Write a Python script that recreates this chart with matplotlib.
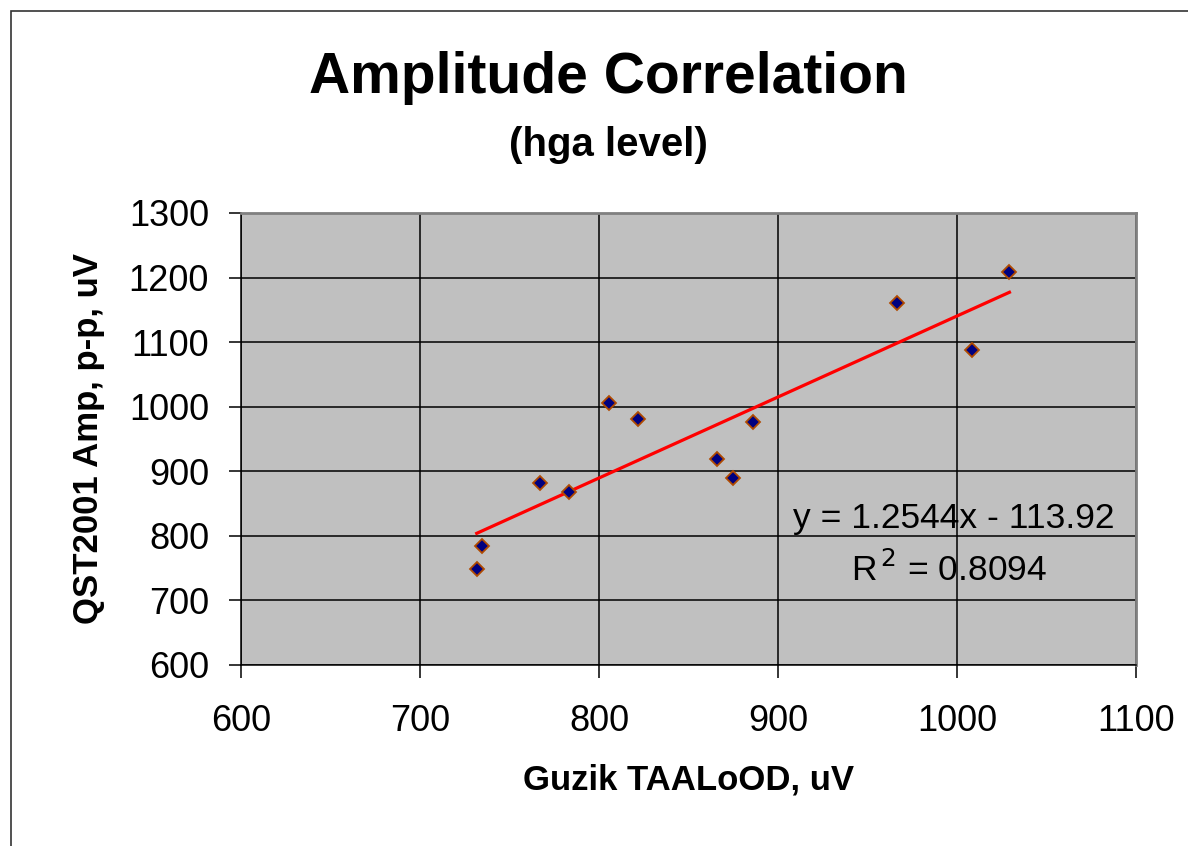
import matplotlib
matplotlib.use("Agg")
import matplotlib.pyplot as plt
from matplotlib.patches import Rectangle
import numpy as np

guzik = [731.7, 734.5, 767.1, 783.3, 805.5, 821.8, 866.2, 874.6, 886.3, 966.3, 1008.2, 1029.3]
qst = [748.2, 784.8, 881.9, 867.4, 1006.2, 981.5, 918.6, 889.1, 976.8, 1161.1, 1088.3, 1209.1]
slope = 1.2544
intercept = -113.92
r2 = 0.8094
x_ticks = [600, 700, 800, 900, 1000, 1100]
y_ticks = [600, 700, 800, 900, 1000, 1100, 1200, 1300]

plt.rcParams['font.family'] = ['Liberation Sans', 'DejaVu Sans']

W, H = 1188, 846
fig = plt.figure(figsize=(W / 100, H / 100), dpi=100)
fig.patch.set_facecolor('white')

# outer border (top and left visible)
fig.add_artist(Rectangle((11 / W, -0.1), 1.2, 1 - 11 / H + 0.1, transform=fig.transFigure,
                         fill=False, edgecolor='#333333', linewidth=1.2))

ax = fig.add_axes([241 / W, 1 - 665 / H, (1136 - 241) / W, (665 - 213) / H])
ax.set_facecolor('#C0C0C0')
ax.set_xlim(600, 1100)
ax.set_ylim(600, 1300)
ax.set_xticks(x_ticks)
ax.set_yticks(y_ticks)
ax.grid(True, color='black', linewidth=1.1)
ax.set_axisbelow(True)

for s in ['top', 'right']:
    ax.spines[s].set_color('#808080')
    ax.spines[s].set_linewidth(2)
for s in ['bottom', 'left']:
    ax.spines[s].set_color('black')
    ax.spines[s].set_linewidth(1.1)

ax.tick_params(axis='both', direction='out', length=9, width=1.1, color='black',
               labelsize=26)
ax.tick_params(axis='y', pad=14)
ax.tick_params(axis='x', pad=19)

xs = np.array([min(guzik), max(guzik)])
ax.plot(xs, slope * xs + intercept, color='#FF0000', linewidth=2.3, zorder=3)
ax.plot(guzik, qst, linestyle='none', marker='D', markersize=7.5,
        markerfacecolor='#000080', markeredgecolor='#B04A00', markeredgewidth=1.3, zorder=4)

ax.text(998, 827, f'y = {slope:.4f}x - {abs(intercept):.2f}', fontsize=25.5,
        ha='center', va='center')
ax.text(995.6, 748, f'R$^{{\\,2}}$ = {r2:.4f}', fontsize=25.5, ha='center', va='center')

fig.text(608 / W, 1 - 78 / H, 'Amplitude Correlation', fontsize=41, fontweight='bold',
         ha='center', va='center')
fig.text(608 / W, 1 - 145 / H, '(hga level)', fontsize=29, fontweight='bold',
         ha='center', va='center')
ax.set_xlabel('Guzik TAALoOD, uV', fontsize=25, fontweight='bold', labelpad=18)
ax.set_ylabel('QST2001 Amp, p-p, uV', fontsize=25, fontweight='bold', labelpad=17)

fig.savefig('out.png', dpi=100)
